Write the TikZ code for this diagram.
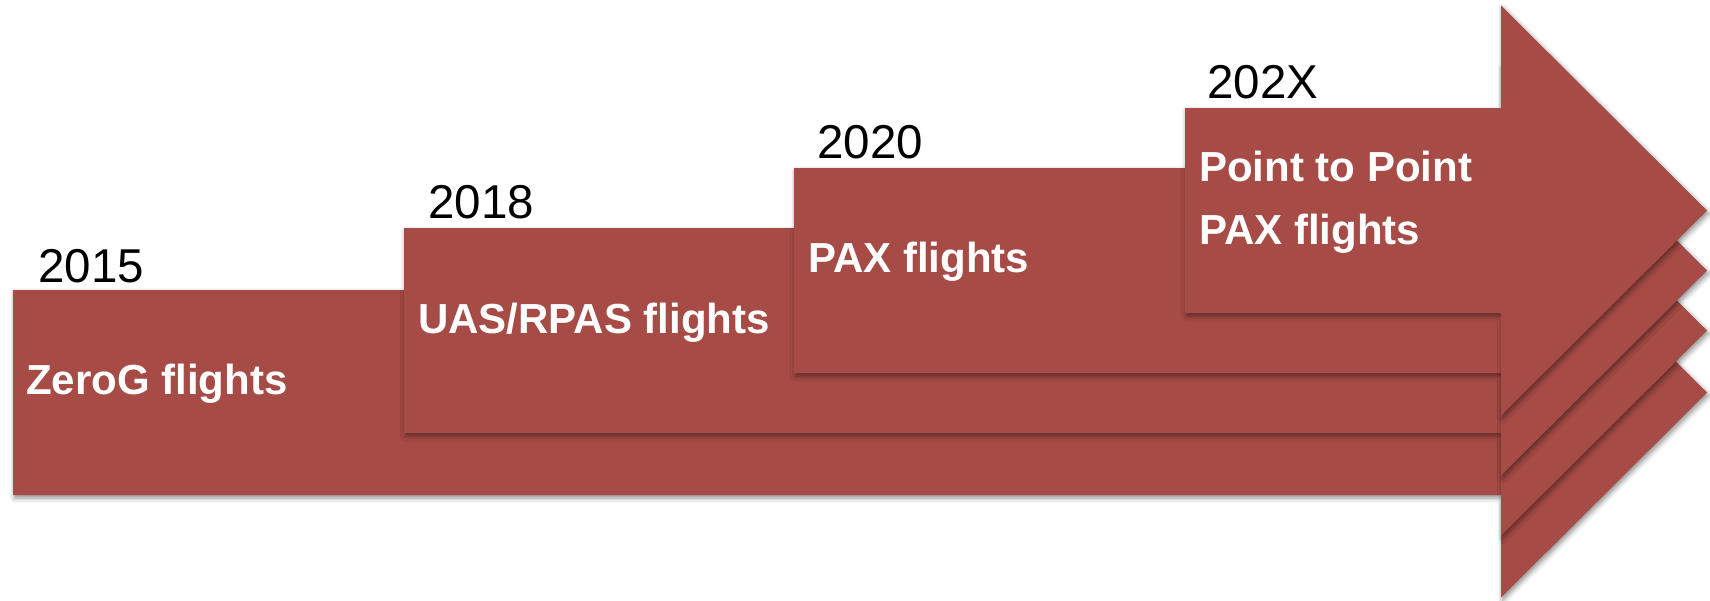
\documentclass[tikz,border=0pt]{standalone}
\usepackage{fontspec}
\setmainfont{Liberation Sans}
\usetikzlibrary{shadows.blur}
\definecolor{barred}{RGB}{167,75,70}
\newcommand\flightarrow[2]{%
  \fill[arrowshape] (#1,#2) -- (1501,#2) -- (1501,#2-102.5) -- (1707,#2+102.5)
    -- (1501,#2+307.5) -- (1501,#2+205) -- (#1,#2+205) -- cycle;}
\begin{document}
\begin{tikzpicture}[x=1pt,y=-1pt,
  arrowshape/.style={fill=barred, draw=none,
    blur shadow={shadow xshift=1.5pt, shadow yshift=-3pt, shadow blur radius=5pt, shadow opacity=45}},
  yearlabel/.style={anchor=base west, inner sep=0pt, text=black, font=\fontsize{47.5}{57}\selectfont},
  barlabel/.style={anchor=base west, inner sep=0pt, text=white, align=left,
    font=\bfseries\fontsize{42}{63}\selectfont}]
\useasboundingbox (0,0) rectangle (1710,600);
\flightarrow{13}{290}
\flightarrow{404}{228}
\flightarrow{794}{168}
\flightarrow{1185}{108}
\node[yearlabel] (y2015) at (38,282) {2015};
\node[yearlabel] (y2018) at (428,218) {2018};
\node[yearlabel] (y2020) at (817,158) {2020};
\node[yearlabel] (y202X) at (1207,98) {202X};
\node[barlabel] (zerog) at (26,394) {ZeroG flights};
\node[barlabel] (uas) at (418,333) {UAS/RPAS flights};
\node[barlabel] (pax) at (808,272) {PAX flights};
\node[barlabel] (p2p) at (1199,244) {Point to Point\\PAX flights};
\end{tikzpicture}
\end{document}
